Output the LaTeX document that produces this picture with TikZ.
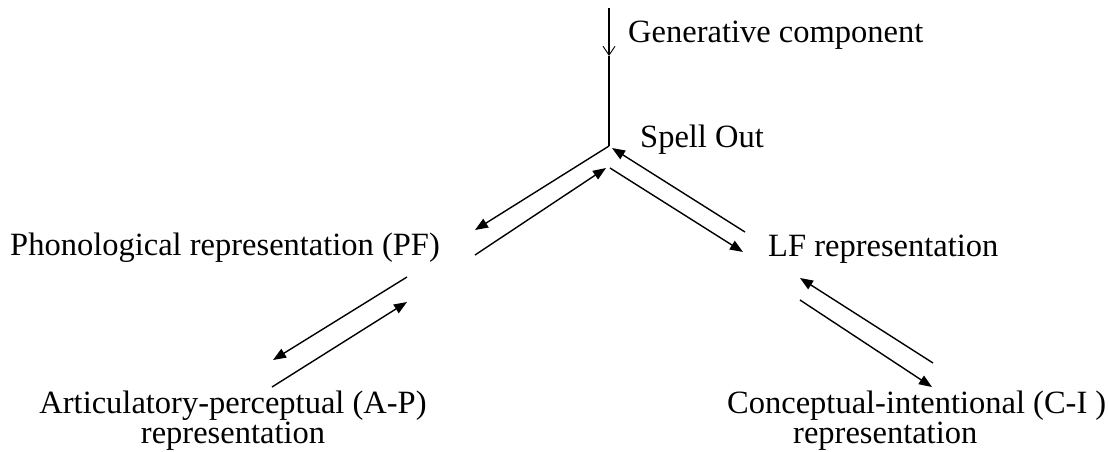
\documentclass[tikz,border=0pt]{standalone}
\usepackage{fontspec}
\setmainfont{Liberation Serif}
\usetikzlibrary{arrows.meta}
\begin{document}
\begin{tikzpicture}[x=1pt,y=-1pt,
  lbl/.style={font=\fontsize{32.5}{30}\selectfont, inner sep=0pt},
  ln/.style={line width=1.4pt},
  tri/.style={ln, -{Triangle[length=13pt,width=10pt]}},
  vee/.style={ln, -{Straight Barb[length=9pt,width=12pt,line width=0.9pt]}}]
\useasboundingbox (0,0) rectangle (1109,451);
% labels
\node[lbl, anchor=base west] (gen) at (628,42) {Generative component};
\node[lbl, anchor=base west] (so) at (640,147) {Spell Out};
\node[lbl, anchor=base west] (pf) at (10,255) {Phonological representation (PF)};
\node[lbl, anchor=base west] (lf) at (768,256) {LF representation};
\node[lbl, anchor=base, align=center] (ap) at (233,443) {Articulatory-perceptual (A-P)\\representation};
\node[lbl, anchor=base west, align=left] (ci) at (727,443) {Conceptual-intentional (C-I )\\\hspace*{66pt}representation};
% connector end points
\coordinate (top) at (609,8);
\coordinate (mid) at (609,56);
\coordinate (apex) at (609,146);
\coordinate (pfo) at (475,230);
\coordinate (pfi) at (475,255);
\coordinate (apxi) at (606,168);
\coordinate (apxr) at (610,168);
\coordinate (lfi) at (743,252);
\coordinate (lfo) at (745,232);
\coordinate (apexr) at (612,148);
\coordinate (pfa) at (407,277);
\coordinate (apa) at (273,360);
\coordinate (apb) at (272,387);
\coordinate (pfb) at (407,302);
\coordinate (cia) at (933,363);
\coordinate (lfa) at (800,278);
\coordinate (lfb) at (800,300);
\coordinate (cib) at (932,387);
% input to Spell Out
\draw[vee] (top) -- (mid);
\draw[ln] (mid) -- (apex);
% Spell Out <-> PF and LF
\draw[tri] (apex) -- (pfo);
\draw[tri] (pfi) -- (apxi);
\draw[tri] (apxr) -- (lfi);
\draw[tri] (lfo) -- (apexr);
% PF <-> A-P
\draw[tri] (pfa) -- (apa);
\draw[tri] (apb) -- (pfb);
% LF <-> C-I
\draw[tri] (cia) -- (lfa);
\draw[tri] (lfb) -- (cib);
\end{tikzpicture}
\end{document}
